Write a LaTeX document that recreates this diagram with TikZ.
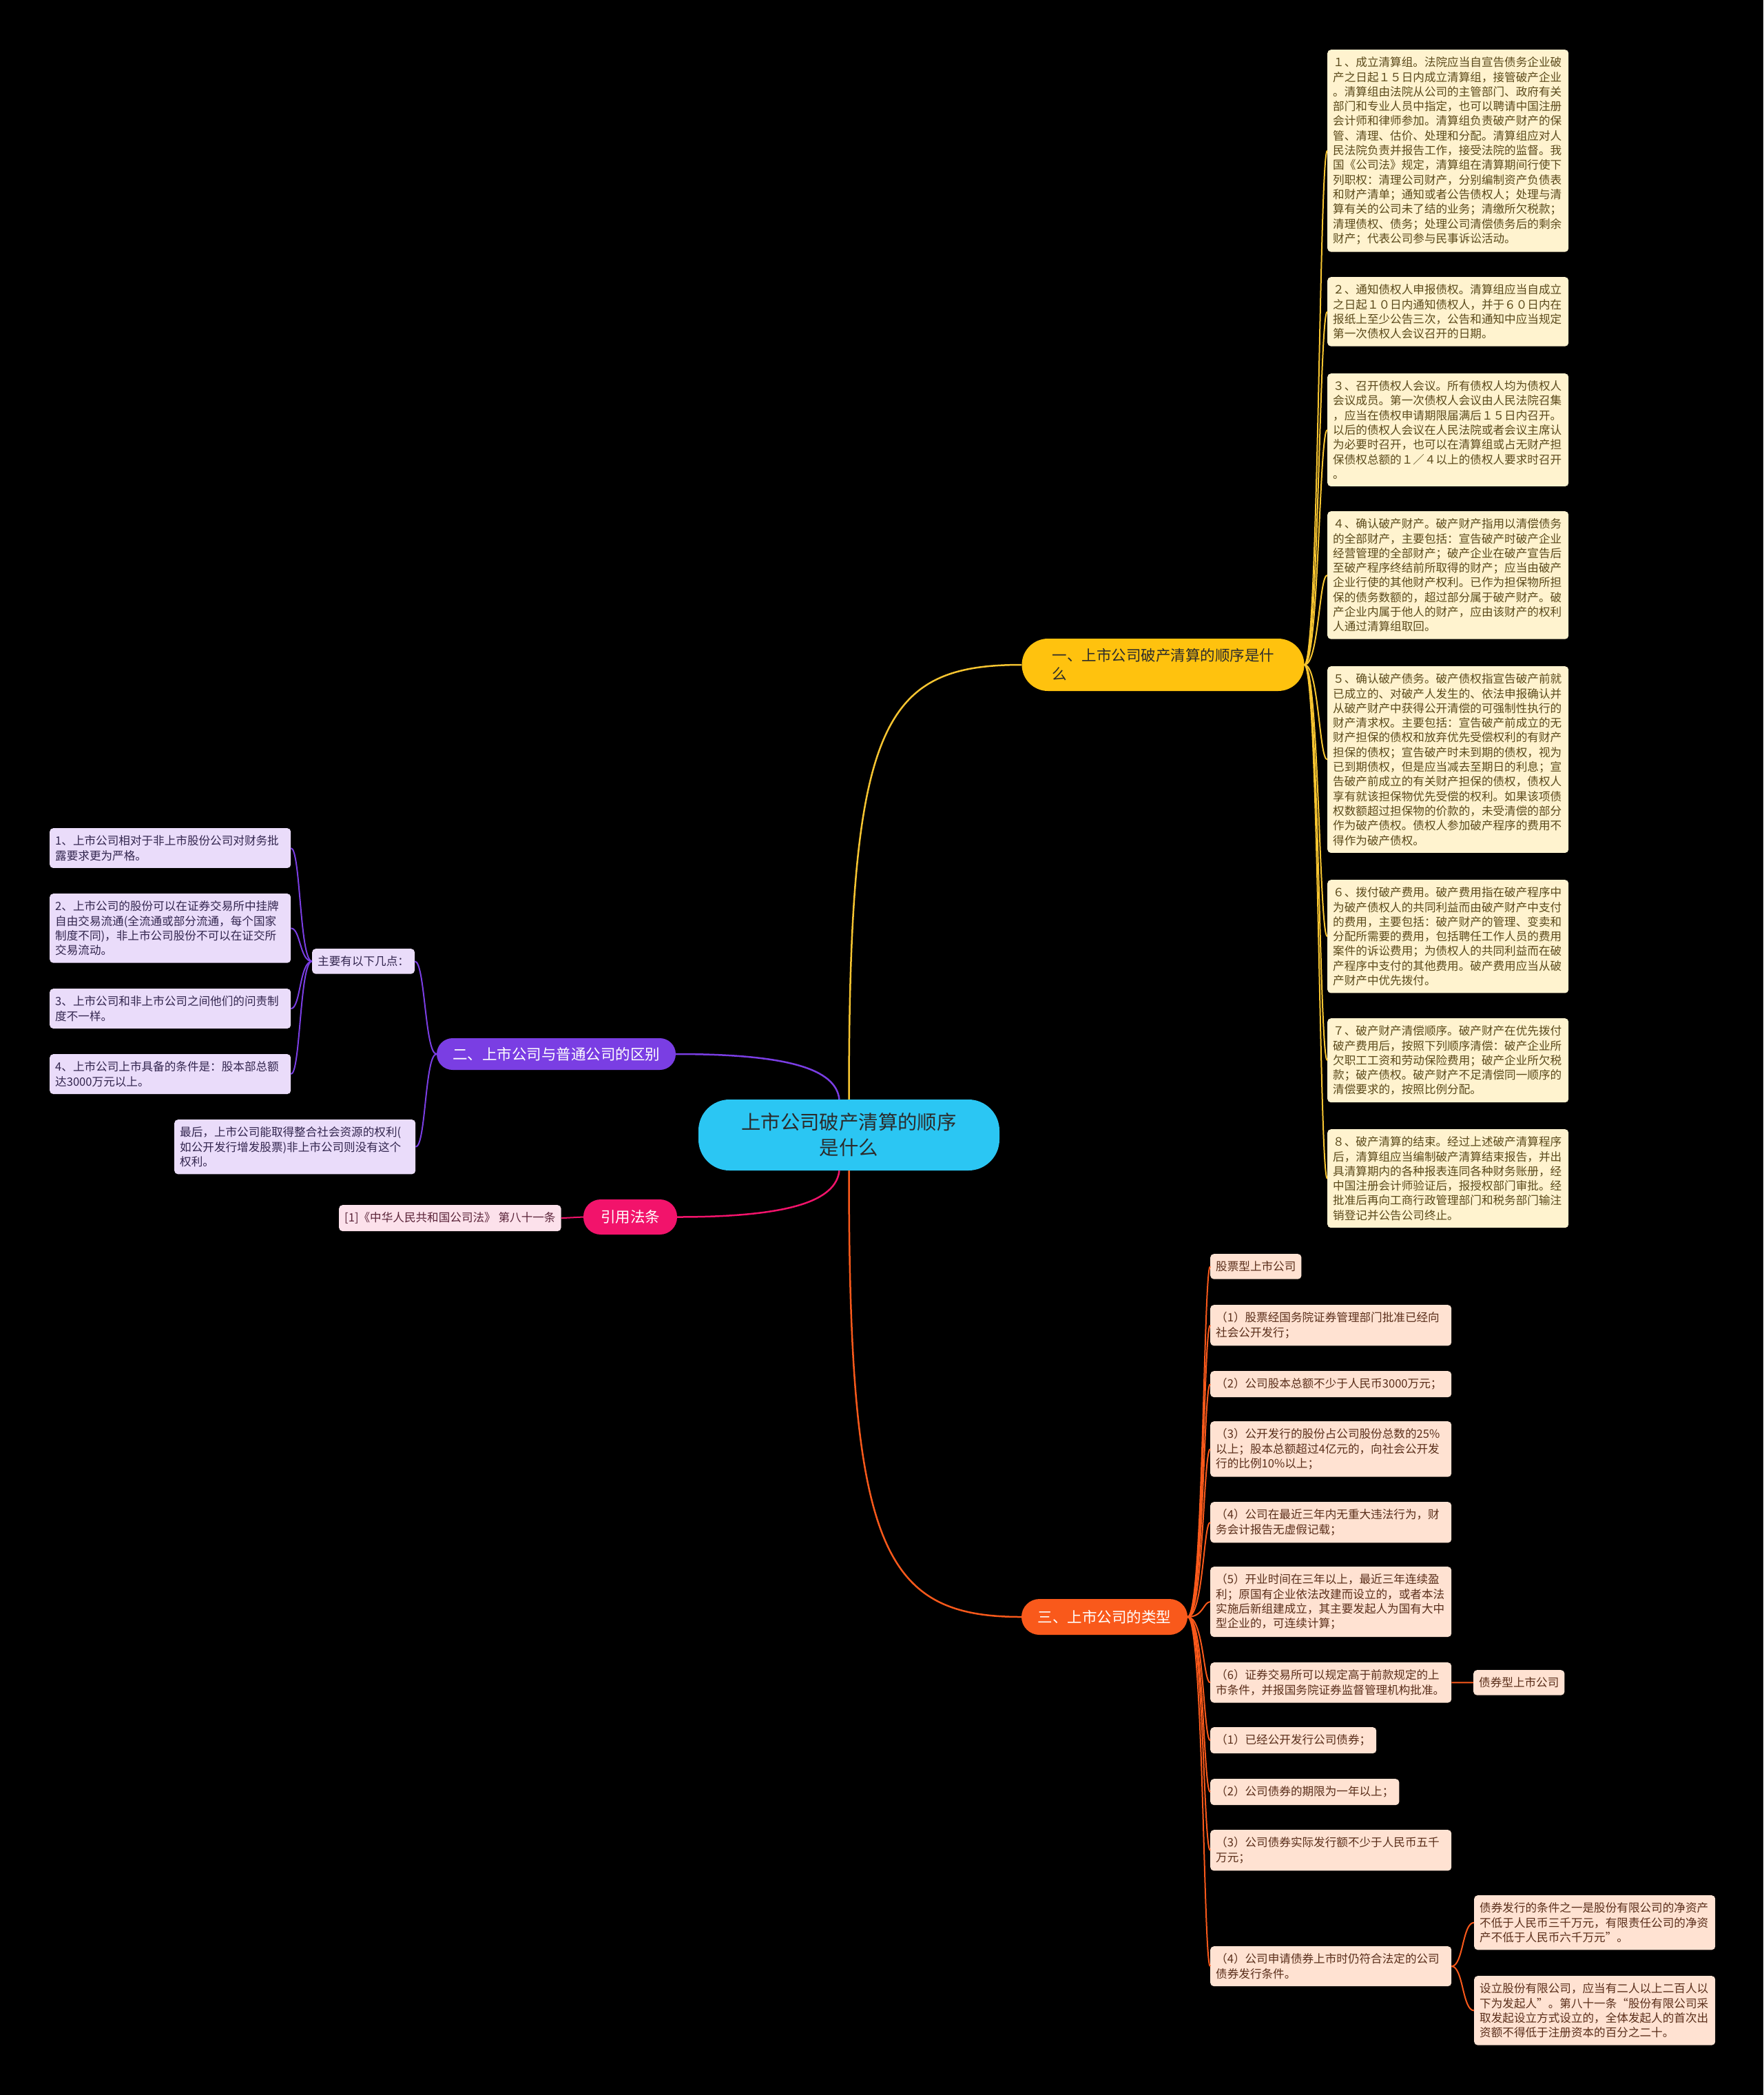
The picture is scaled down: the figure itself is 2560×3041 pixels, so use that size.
\documentclass[tikz,border=0pt]{standalone}
\usepackage{fontspec}
\setmainfont{Noto Sans CJK SC}
\usepackage{xcolor}
\usepackage{tikz}
\usetikzlibrary{positioning}

\definecolor{rootc}{HTML}{2BC6F3}
\definecolor{darktext}{HTML}{2B2B2B}
\definecolor{yelc}{HTML}{FFC20E}
\definecolor{yelline}{HTML}{F7C531}
\definecolor{yelfill}{HTML}{FFF3CF}
\definecolor{yeltext}{HTML}{5B4A1B}
\definecolor{purc}{HTML}{7A3EE3}
\definecolor{purfill}{HTML}{EADCFA}
\definecolor{purtext}{HTML}{33264F}
\definecolor{pinkc}{HTML}{F2136B}
\definecolor{pinkfill}{HTML}{FCE1EB}
\definecolor{pinktext}{HTML}{5A2338}
\definecolor{orgc}{HTML}{F9591B}
\definecolor{orgfill}{HTML}{FFE2D2}
\definecolor{orgtext}{HTML}{5A2E1A}

\newcommand\leaffont{\fontsize{16.6}{21.3}\selectfont}
\newcommand\topicfont{\fontsize{21.5}{27}\selectfont}
\newcommand\rootfont{\fontsize{28.4}{37}\selectfont}

\begin{document}
\begin{tikzpicture}[x=1pt, y=-1pt,
  % Node styles
  root/.style={fill=rootc, text=darktext, rounded corners=45pt, minimum width=437pt,
               minimum height=103pt, align=center, font=\rootfont, inner sep=0pt},
  topic/.style={align=center, font=\topicfont, inner xsep=22pt, inner ysep=0pt},
  note/.style={rounded corners=5pt, text width=334pt, align=left, font=\leaffont,
               inner xsep=8pt, inner ysep=10.5pt, anchor=north west},
  tag/.style={rounded corners=5pt, align=left, font=\leaffont,
              inner xsep=8pt, inner ysep=10.5pt, anchor=north west},
  ynote/.style={note, fill=yelfill, text=yeltext},
  pnote/.style={note, fill=purfill, text=purtext},
  ptag/.style={tag, fill=purfill, text=purtext},
  onote/.style={note, fill=orgfill, text=orgtext},
  otag/.style={tag, fill=orgfill, text=orgtext},
  % Link styles
  link/.style={line width=2.5pt},
  twig/.style={line width=2pt},
]

  \path[use as bounding box, fill=black] (0,0) rectangle (2560,3041);

  % ── Root and main topics ──
  \node[root] (root) at (1232.5,1647.5) {上市公司破产清算的顺序\\是什么};
  \node[topic, fill=yelc, text=darktext, align=left, text width=322pt, inner xsep=44pt,
        minimum height=76pt, rounded corners=38pt] (b1) at (1688.5,965) {一、上市公司破产清算的顺序是什\\么};
  \node[topic, fill=purc, text=white, minimum width=347pt, minimum height=46pt,
        rounded corners=23pt] (b2) at (807.5,1530) {二、上市公司与普通公司的区别};
  \node[topic, fill=pinkc, text=white, minimum width=136pt, minimum height=51pt,
        rounded corners=25pt] (b4) at (915,1766.5) {引用法条};
  \node[topic, fill=orgc, text=white, minimum width=241pt, minimum height=52pt,
        rounded corners=26pt] (b3) at (1603.5,2347) {三、上市公司的类型};

  % ── Topic 1: steps ──
  \node[ynote] (y1) at (1927,72) {１、成立清算组。法院应当自宣告债务企业破\\产之日起１５日内成立清算组，接管破产企业\\。清算组由法院从公司的主管部门、政府有关\\部门和专业人员中指定，也可以聘请中国注册\\会计师和律师参加。清算组负责破产财产的保\\管、清理、估价、处理和分配。清算组应对人\\民法院负责并报告工作，接受法院的监督。我\\国《公司法》规定，清算组在清算期间行使下\\列职权：清理公司财产，分别编制资产负债表\\和财产清单；通知或者公告债权人；处理与清\\算有关的公司未了结的业务；清缴所欠税款；\\清理债权、债务；处理公司清偿债务后的剩余\\财产；代表公司参与民事诉讼活动。};
  \node[ynote] (y2) at (1927,402) {２、通知债权人申报债权。清算组应当自成立\\之日起１０日内通知债权人，并于６０日内在\\报纸上至少公告三次，公告和通知中应当规定\\第一次债权人会议召开的日期。};
  \node[ynote] (y3) at (1927,542) {３、召开债权人会议。所有债权人均为债权人\\会议成员。第一次债权人会议由人民法院召集\\，应当在债权申请期限届满后１５日内召开。\\以后的债权人会议在人民法院或者会议主席认\\为必要时召开，也可以在清算组或占无财产担\\保债权总额的１／４以上的债权人要求时召开\\。};
  \node[ynote] (y4) at (1927,742) {４、确认破产财产。破产财产指用以清偿债务\\的全部财产，主要包括：宣告破产时破产企业\\经营管理的全部财产；破产企业在破产宣告后\\至破产程序终结前所取得的财产；应当由破产\\企业行使的其他财产权利。已作为担保物所担\\保的债务数额的，超过部分属于破产财产。破\\产企业内属于他人的财产，应由该财产的权利\\人通过清算组取回。};
  \node[ynote] (y5) at (1927,967) {５、确认破产债务。破产债权指宣告破产前就\\已成立的、对破产人发生的、依法申报确认并\\从破产财产中获得公开清偿的可强制性执行的\\财产清求权。主要包括：宣告破产前成立的无\\财产担保的债权和放弃优先受偿权利的有财产\\担保的债权；宣告破产时未到期的债权，视为\\已到期债权，但是应当减去至期日的利息；宣\\告破产前成立的有关财产担保的债权，债权人\\享有就该担保物优先受偿的权利。如果该项债\\权数额超过担保物的价款的，未受清偿的部分\\作为破产债权。债权人参加破产程序的费用不\\得作为破产债权。};
  \node[ynote] (y6) at (1927,1277) {６、拨付破产费用。破产费用指在破产程序中\\为破产债权人的共同利益而由破产财产中支付\\的费用，主要包括：破产财产的管理、变卖和\\分配所需要的费用，包括聘任工作人员的费用\\案件的诉讼费用；为债权人的共同利益而在破\\产程序中支付的其他费用。破产费用应当从破\\产财产中优先拨付。};
  \node[ynote] (y7) at (1927,1478) {７、破产财产清偿顺序。破产财产在优先拨付\\破产费用后，按照下列顺序清偿：破产企业所\\欠职工工资和劳动保险费用；破产企业所欠税\\款；破产债权。破产财产不足清偿同一顺序的\\清偿要求的，按照比例分配。};
  \node[ynote] (y8) at (1927,1639) {８、破产清算的结束。经过上述破产清算程序\\后，清算组应当编制破产清算结束报告，并出\\具清算期内的各种报表连同各种财务账册，经\\中国注册会计师验证后，报授权部门审批。经\\批准后再向工商行政管理部门和税务部门输注\\销登记并公告公司终止。};

  % ── Topic 2: differences ──
  \node[ptag] (p0) at (453,1377) {主要有以下几点：};
  \node[pnote] (p1) at (72,1202) {1、上市公司相对于非上市股份公司对财务批\\露要求更为严格。};
  \node[pnote] (p2) at (72,1297) {2、上市公司的股份可以在证券交易所中挂牌\\自由交易流通(全流通或部分流通，每个国家\\制度不同)，非上市公司股份不可以在证交所\\交易流动。};
  \node[pnote] (p3) at (72,1435) {3、上市公司和非上市公司之间他们的问责制\\度不一样。};
  \node[pnote] (p4) at (72,1530) {4、上市公司上市具备的条件是：股本部总额\\达3000万元以上。};
  \node[pnote] (pz) at (253,1625) {最后，上市公司能取得整合社会资源的权利(\\如公开发行增发股票)非上市公司则没有这个\\权利。};

  % ── Cited law ──
  \node[tag, fill=pinkfill, text=pinktext] (law) at (492,1749) {[1]《中华人民共和国公司法》 第八十一条};

  % ── Topic 3: types ──
  \node[otag] (g0) at (1757,1820) {股票型上市公司};
  \node[onote] (s1) at (1757,1894) {（1）股票经国务院证券管理部门批准已经向\\社会公开发行；};
  \node[onote] (s2) at (1757,1990) {（2）公司股本总额不少于人民币3000万元；};
  \node[onote] (s3) at (1757,2063) {（3）公开发行的股份占公司股份总数的25\%\\以上；股本总额超过4亿元的，向社会公开发\\行的比例10\%以上；};
  \node[onote] (s4) at (1757,2180) {（4）公司在最近三年内无重大违法行为，财\\务会计报告无虚假记载；};
  \node[onote] (s5) at (1757,2274) {（5）开业时间在三年以上，最近三年连续盈\\利；原国有企业依法改建而设立的，或者本法\\实施后新组建成立，其主要发起人为国有大中\\型企业的，可连续计算；};
  \node[onote] (s6) at (1757,2413) {（6）证券交易所可以规定高于前款规定的上\\市条件，并报国务院证券监督管理机构批准。};
  \node[otag] (g1) at (2139,2424) {债券型上市公司};
  \node[otag] (d1) at (1757,2507) {（1）已经公开发行公司债券；};
  \node[otag] (d2) at (1757,2582) {（2）公司债券的期限为一年以上；};
  \node[onote] (d3) at (1757,2656) {（3）公司债券实际发行额不少于人民币五千\\万元；};
  \node[onote] (d4) at (1757,2825) {（4）公司申请债券上市时仍符合法定的公司\\债券发行条件。};
  \node[onote] (k1) at (2140,2751) {债券发行的条件之一是股份有限公司的净资产\\不低于人民币三千万元，有限责任公司的净资\\产不低于人民币六千万元”。};
  \node[onote] (k2) at (2140,2868) {设立股份有限公司，应当有二人以上二百人以\\下为发起人”。第八十一条“股份有限公司采\\取发起设立方式设立的，全体发起人的首次出\\资额不得低于注册资本的百分之二十。};

  % ── Links from root ──
  \draw[link, yelline] (root.north) .. controls +(0,-546) and +(-203,0) .. (b1.west);
  \draw[link, orgc] (root.south) .. controls +(0,546) and +(-203,0) .. (b3.west);
  \draw[link, purc] ([xshift=-14pt]root.north) .. controls +(-5,-45) and +(160,0) .. (b2.east);
  \draw[link, pinkc] ([xshift=-14pt]root.south) .. controls +(-5,45) and +(160,0) .. (b4.east);

  % ── Links to leaves ──
  \foreach \i in {1,...,8}
    \draw[twig, yelline] (b1.east) .. controls +(21,0) and +(-12,0) .. (y\i.west);
  \draw[twig, purc] (b2.west) .. controls +(-17,0) and +(15,0) .. (p0.east);
  \draw[twig, purc] (b2.west) .. controls +(-17,0) and +(15,0) .. (pz.east);
  \foreach \i in {1,...,4}
    \draw[twig, purc] (p0.west) .. controls +(-18,0) and +(14,0) .. (p\i.east);
  \draw[twig, pinkc] (b4.west) -- (law.east);
  \foreach \n in {g0,s1,s2,s3,s4,s5,s6,d1,d2,d3,d4}
    \draw[twig, orgc] (b3.east) .. controls +(23,0) and +(-10,0) .. (\n.west);
  \draw[twig, orgc] (s6.east) -- (g1.west);
  \foreach \n in {k1,k2}
    \draw[twig, orgc] (d4.east) .. controls +(17,0) and +(-17,0) .. (\n.west);

\end{tikzpicture}
\end{document}
